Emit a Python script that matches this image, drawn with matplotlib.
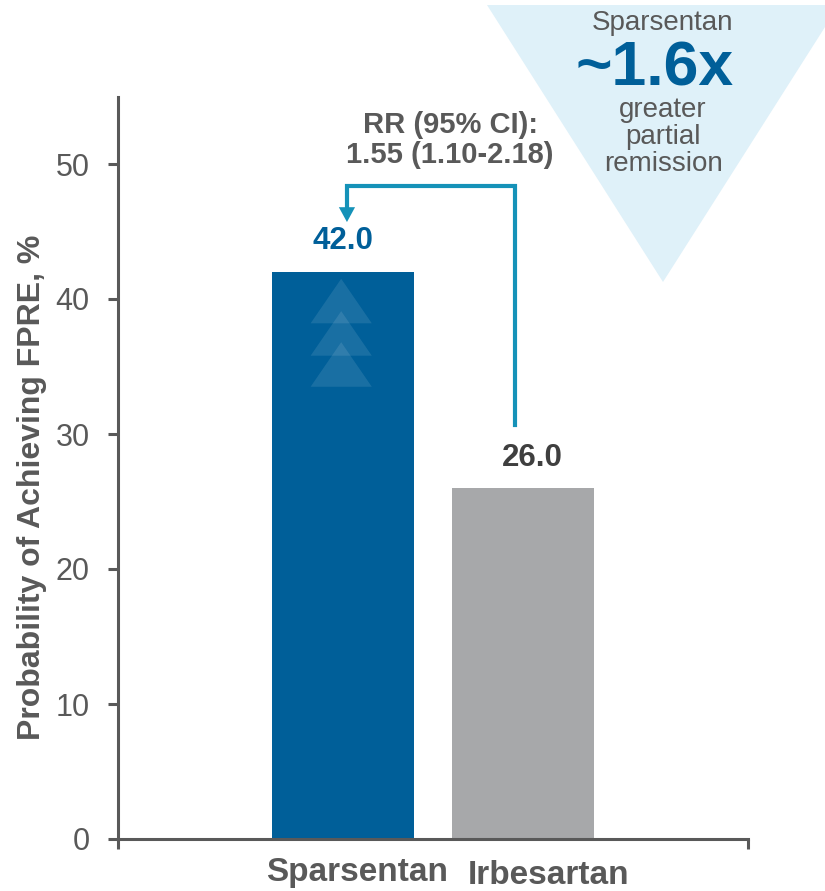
import matplotlib
matplotlib.use("Agg")
import matplotlib.pyplot as plt
from matplotlib.patches import Polygon
from matplotlib.transforms import ScaledTranslation

plt.rcParams['font.family'] = ['Liberation Sans', 'DejaVu Sans']

# Data
categories = ["Sparsentan", "Irbesartan"]
values = [42.0, 26.0]
value_labels = ["42.0", "26.0"]
y_ticks = [0, 10, 20, 30, 40, 50]
rr_text = "RR (95% CI):\n1.55 (1.10-2.18)"
fold_text = "~1.6x"

BLUE = "#005f99"
GREY_BAR = "#a7a8aa"
TEXT = "#595959"
TEAL = "#1592b8"
LIGHT = "#dff1f9"

fig = plt.figure(figsize=(8.25, 8.91), dpi=100)
W, H = 825, 891

# Callout triangle in the top-right corner
tri = Polygon([(487 / W, 1 - 5 / H), (839 / W, 1 - 5 / H), (663 / W, 1 - 282 / H)],
              closed=True, transform=fig.transFigure, facecolor=LIGHT,
              edgecolor="none", zorder=0)
fig.patches.append(tri)
fig.text(663 / W, 1 - 23 / H, "Sparsentan", ha="center", va="center",
         fontsize=20, color=TEXT)
fig.text(655 / W, 1 - 69 / H, fold_text, ha="center", va="center",
         fontsize=45, fontweight="bold", color=BLUE)
fig.text(663 / W, 1 - 137 / H, "greater\npartial\nremission", ha="center",
         va="center", fontsize=20, color=TEXT, linespacing=1.05)

ax = fig.add_axes([118 / W, 1 - 839 / H, 630 / W, (839 - 96.5) / H])
ax.set_facecolor("none")

x = list(range(len(categories)))
bars = ax.bar(x, values, width=0.79, color=[BLUE, GREY_BAR], zorder=2)

# Faint upward chevrons inside the first bar
for apex in (41.5, 39.1, 36.8):
    ax.add_patch(Polygon([(x[0] - 0.01, apex), (x[0] - 0.18, apex - 3.3),
                          (x[0] + 0.16, apex - 3.3)], closed=True,
                         facecolor="white", alpha=0.1, edgecolor="none",
                         zorder=3))

# Value labels
ax.text(x[0], values[0] + 2.3, value_labels[0], ha="center", va="center",
        fontsize=22.5, fontweight="bold", color=BLUE)
ax.text(x[1] + 0.05, values[1] + 2.2, value_labels[1], ha="center",
        va="center", fontsize=22.5, fontweight="bold", color="#3f3f3f")

# Comparison bracket with arrow
top = 48.4
ax.plot([0.956, 0.956, 0.022, 0.022], [values[1] + 4.7, top, top, values[0] + 4.7],
        color=TEAL, lw=3, solid_joinstyle="miter", zorder=4)
ax.add_patch(Polygon([(0.022, values[0] + 3.7), (0.022 - 0.045, values[0] + 4.8),
                      (0.022 + 0.045, values[0] + 4.8)], closed=True,
                     facecolor=TEAL, edgecolor="none", zorder=4))
ax.text(0.595, 51.75, rr_text, ha="center", va="center", fontsize=21,
        fontweight="bold", color=TEXT, linespacing=1.1)

ax.set_xlim(-1.25, 2.25)
ax.set_ylim(0, 55)
ax.set_yticks(y_ticks)
ax.set_xticks(x)
ax.set_xticklabels(categories, fontsize=24, fontweight="bold", color=TEXT)
ax.set_xticks([-1.25, 2.25], minor=True)
ax.tick_params(axis="x", which="major", length=0, pad=13)
ax.tick_params(axis="x", which="minor", length=7.5, width=2.2, color=TEXT,
               direction="out")
ax.tick_params(axis="y", length=7.5, width=2.2, color=TEXT, pad=13,
               labelsize=22, labelcolor=TEXT)
for lab, dx, dy in zip(ax.get_xticklabels(), (14, 26), (0, -3)):
    lab.set_transform(lab.get_transform()
                      + ScaledTranslation(dx / 100, dy / 100, fig.dpi_scale_trans))

ax.set_ylabel("Probability of Achieving FPRE, %", fontsize=23, fontweight="bold",
              color=TEXT)
ax.yaxis.set_label_coords(-(118 - 47) / 630, 0.474)

for s in ("top", "right"):
    ax.spines[s].set_visible(False)
for s in ("left", "bottom"):
    ax.spines[s].set_color(TEXT)
    ax.spines[s].set_linewidth(2.2)

fig.savefig("out.png", dpi=100)
